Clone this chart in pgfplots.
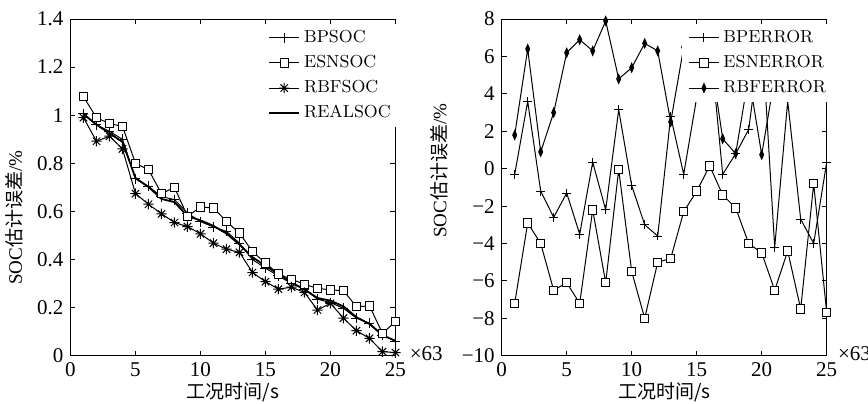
\documentclass[border=0pt]{standalone}
\usepackage{fontspec}
\usepackage{pgfplots}
\usepackage{pgfplotstable}
\pgfplotsset{compat=1.18}
\newfontfamily\tnr{Liberation Serif}
\newfontfamily\cjk{Noto Sans CJK SC}

% matlab-like '*' (plus and cross together)
\pgfdeclareplotmark{mstar}{%
  \pgfpathmoveto{\pgfqpoint{-\pgfplotmarksize}{0pt}}\pgfpathlineto{\pgfqpoint{\pgfplotmarksize}{0pt}}%
  \pgfpathmoveto{\pgfqpoint{0pt}{-\pgfplotmarksize}}\pgfpathlineto{\pgfqpoint{0pt}{\pgfplotmarksize}}%
  \pgfpathmoveto{\pgfqpoint{-.707\pgfplotmarksize}{-.707\pgfplotmarksize}}\pgfpathlineto{\pgfqpoint{.707\pgfplotmarksize}{.707\pgfplotmarksize}}%
  \pgfpathmoveto{\pgfqpoint{-.707\pgfplotmarksize}{.707\pgfplotmarksize}}\pgfpathlineto{\pgfqpoint{.707\pgfplotmarksize}{-.707\pgfplotmarksize}}%
  \pgfusepathqstroke}
% tall filled diamond
\pgfdeclareplotmark{tdiamond}{%
  \pgfpathmoveto{\pgfqpoint{0pt}{\pgfplotmarksize}}\pgfpathlineto{\pgfqpoint{.45\pgfplotmarksize}{0pt}}%
  \pgfpathlineto{\pgfqpoint{0pt}{-\pgfplotmarksize}}\pgfpathlineto{\pgfqpoint{-.45\pgfplotmarksize}{0pt}}%
  \pgfpathclose\pgfusepathqfillstroke}

\pgfplotstableread{
x     bp     esn    rbf    real
1   1.007  1.077  0.990  1.005
2   0.960  0.990  0.892  0.961
3   0.933  0.965  0.913  0.925
4   0.900  0.954  0.860  0.889
5   0.735  0.800  0.674  0.739
6   0.704  0.774  0.630  0.702
7   0.662  0.674  0.590  0.652
8   0.649  0.700  0.554  0.639
9   0.593  0.580  0.537  0.580
10  0.558  0.618  0.507  0.563
11  0.535  0.615  0.468  0.540
12  0.517  0.558  0.443  0.508
13  0.468  0.510  0.430  0.462
14  0.400  0.433  0.346  0.410
15  0.364  0.385  0.308  0.373
16  0.332  0.340  0.277  0.340
17  0.300  0.318  0.285  0.304
18  0.277  0.297  0.263  0.276
19  0.235  0.280  0.190  0.240
20  0.221  0.274  0.218  0.229
21  0.197  0.270  0.156  0.205
22  0.156  0.204  0.104  0.160
23  0.135  0.207  0.072  0.132
24  0.086  0.093  0.017  0.085
25  0.060  0.142  0.013  0.062
}\socdata

\pgfplotstableread{
x     bp     esn    rbf
1   -0.30  -7.20   1.80
2    3.60  -2.90   6.40
3   -1.20  -4.00   0.90
4   -2.60  -6.50   3.00
5   -1.30  -6.10   6.20
6   -3.50  -7.20   6.90
7    0.35  -2.20   6.30
8   -2.20  -6.10   7.90
9    3.15  -0.05   4.80
10  -0.90  -5.50   5.40
11  -3.00  -8.00   6.70
12  -3.60  -5.00   6.30
13   2.80  -4.80   2.50
14  -0.30  -2.30   6.50
15   3.80  -1.20   6.40
16   7.00   0.15   6.30
17  -0.30  -1.40   1.60
18   0.80  -2.10   0.80
19   2.10  -4.00   5.00
20   7.40  -4.50   0.75
21  -4.20  -6.50   4.90
22   3.60  -4.40   5.60
23  -2.70  -7.50   6.00
24  -4.00  -0.80   7.20
25   0.35  -7.70   4.80
}\errdata

\pgfplotsset{
  panel/.style={
    scale only axis, width=162.5pt, height=168.3pt,
    xmin=0, xmax=25, xtick={0,5,...,25},
    xticklabels={0,5,10,15,20,25},
    tick align=inside, major tick length=2.5pt,
    axis line style={line width=0.5pt},
    every tick/.style={black,line width=0.5pt},
    ticklabel style={font=\tnr\fontsize{10.5}{12}\selectfont},
    label style={font=\fontsize{9.5}{11}\selectfont},
    xlabel={\cjk 工况时间/s},
    xlabel style={yshift=4pt},
    ylabel={{\tnr SOC}\cjk 估计误差{\tnr /\%}},
    legend cell align=left,
    legend style={draw=none, fill=white, inner xsep=3pt, inner ysep=3pt,
      font=\fontsize{8.7}{10}\selectfont,
      nodes={inner xsep=2pt, inner ysep=0pt, text height=6.3pt, text depth=1.8pt},
      row sep=4.5pt},
    legend image code/.code={%
      \draw[mark repeat=2,mark phase=2,##1] plot coordinates {(0pt,0pt) (7.5pt,0pt) (15pt,0pt)};},
    every axis plot/.append style={black, line width=0.5pt},
  },
}

\begin{document}
\begin{tikzpicture}
\useasboundingbox (-35.25pt,-23.65pt) rectangle (398.75pt,177.85pt);

\begin{axis}[panel, name=L, at={(0pt,0pt)}, anchor=south west,
  ymin=0, ymax=1.4, ytick={0,0.2,...,1.4},
  yticklabels={0,0.2,0.4,0.6,0.8,1,1.2,1.4},
  ylabel style={at={(ticklabel cs:0.41)}},
  legend style={at={(rel axis cs:0.589,0.988)}, anchor=north west}]
  \addplot[mark=+, mark size=2.5pt] table[x=x, y=bp] {\socdata};
  \addplot[mark=square*, mark size=2.1pt, mark options={fill=white}] table[x=x, y=esn] {\socdata};
  \addplot[mark=mstar, mark size=2.6pt] table[x=x, y=rbf] {\socdata};
  \addplot[no marks, line width=0.9pt] table[x=x, y=real] {\socdata};
  \legend{BPSOC,ESNSOC,RBFSOC,REALSOC}
\end{axis}
\node[anchor=west, inner sep=0pt, font=\tnr\fontsize{10.5}{12}\selectfont] at ([xshift=7pt,yshift=1pt]L.south east) {×63};

\begin{axis}[panel, name=R, at={(215.6pt,0pt)}, anchor=south west,
  ymin=-10, ymax=8, ytick={-10,-8,...,8},
  yticklabels={−10,−8,−6,−4,−2,0,2,4,6,8},
  ylabel style={at={(ticklabel cs:0.55)}},
  legend style={at={(rel axis cs:0.555,0.988)}, anchor=north west}]
  \addplot[mark=+, mark size=2.2pt] table[x=x, y=bp] {\errdata};
  \addplot[mark=square*, mark size=2.1pt, mark options={fill=white}] table[x=x, y=esn] {\errdata};
  \addplot[mark=tdiamond, mark size=2.2pt] table[x=x, y=rbf] {\errdata};
  \legend{BPERROR,ESNERROR,RBFERROR}
\end{axis}
\node[anchor=west, inner sep=0pt, font=\tnr\fontsize{10.5}{12}\selectfont] at ([xshift=5.5pt,yshift=1pt]R.south east) {×63};
\end{tikzpicture}
\end{document}
